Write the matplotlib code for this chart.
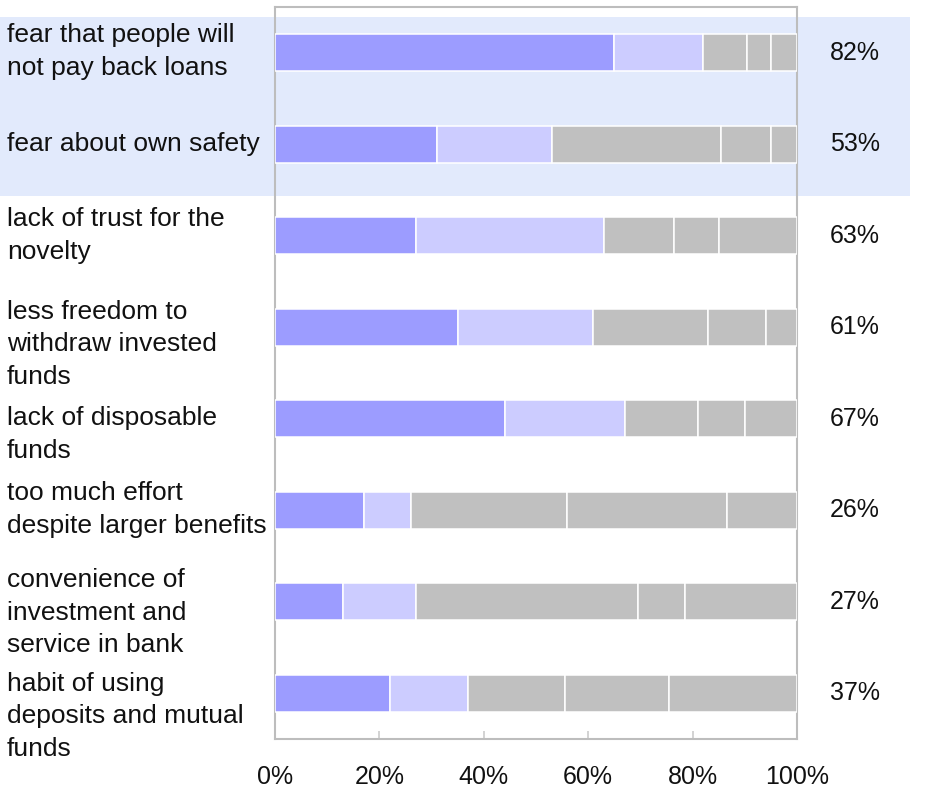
import matplotlib
matplotlib.use("Agg")
import matplotlib.pyplot as plt
from matplotlib.patches import Rectangle
from matplotlib.transforms import blended_transform_factory, offset_copy

plt.rcParams['font.family'] = ['Liberation Sans', 'DejaVu Sans']

# Reasons (top to bottom) and the five answer shares per reason, in %
categories = [
    "fear that people will\nnot pay back loans",
    "fear about own safety",
    "lack of trust for the\nnovelty",
    "less freedom to\nwithdraw invested\nfunds",
    "lack of disposable\nfunds",
    "too much effort\ndespite larger benefits",
    "convenience of\ninvestment and\nservice in bank",
    "habit of using\ndeposits and mutual\nfunds",
]
strongly_agree = [65, 31, 27, 35, 44, 17, 13, 22]
agree = [17, 22, 36, 26, 23, 9, 14, 15]
neutral = [8.5, 32.5, 13.5, 22, 14, 30, 42.5, 18.5]
disagree = [4.5, 9.5, 8.5, 11, 9, 30.5, 9, 20]
strongly_disagree = [5, 5, 15, 6, 10, 13.5, 21.5, 24.5]
x_ticks = [0, 20, 40, 60, 80, 100]
x_tick_labels = ["0%", "20%", "40%", "60%", "80%", "100%"]

series = [strongly_agree, agree, neutral, disagree, strongly_disagree]
colors = ["#9C9CFF", "#CCCCFF", "#C0C0C0", "#C0C0C0", "#C0C0C0"]

# vertical nudge (pixels, downward) of each multi-line label
label_shift_px = [-1, 0, 0, 17, 16, -1, 11, 23]

W, H = 929, 791
fig = plt.figure(figsize=(W / 100, H / 100), dpi=100)
fig.patch.set_facecolor("white")

# highlight band behind the first two reasons
band = Rectangle((0, 1 - 196 / H), 910 / W, (196 - 17) / H,
                 transform=fig.transFigure, facecolor="#E2EAFC",
                 edgecolor="none", zorder=0)
fig.patches.append(band)

ax = fig.add_axes([275 / W, 1 - 739 / H, (797 - 275) / W, (739 - 7) / H])
ax.set_zorder(1)
ax.patch.set_alpha(0)

y = list(range(len(categories)))
left = [0.0] * len(categories)
for vals, col in zip(series, colors):
    ax.barh(y, vals, left=left, height=0.405, color=col,
            edgecolor="white", linewidth=1.1, zorder=3)
    left = [l + v for l, v in zip(left, vals)]

ax.set_xlim(0, 100)
ax.set_ylim(len(categories) - 0.5, -0.5)

for s in ax.spines.values():
    s.set_color("#BDBDBD")
    s.set_linewidth(1.5)

ax.set_xticks(x_ticks)
ax.set_xticklabels(x_tick_labels, fontsize=18, color="#111111")
ax.tick_params(axis="x", direction="in", length=6, width=1.2,
               color="#CCCCCC", pad=19)
ax.set_yticks([])

# category labels, left aligned near the figure edge
trans = blended_transform_factory(fig.transFigure, ax.transData)
for i, (lab, sh) in enumerate(zip(categories, label_shift_px)):
    t = offset_copy(trans, fig=fig, x=0, y=-sh, units="dots")
    ax.text(7 / W, i, lab, transform=t, ha="left", va="center",
            fontsize=19, linespacing=1.45, color="#111111", clip_on=False)

# share of positive answers at the right
trans_r = blended_transform_factory(fig.transFigure, ax.transData)
for i, (a, b) in enumerate(zip(strongly_agree, agree)):
    ax.text(855 / W, i, f"{a + b:.0f}%", transform=trans_r, ha="center",
            va="center", fontsize=18, color="#111111", clip_on=False)

fig.savefig("out.png", dpi=100)
